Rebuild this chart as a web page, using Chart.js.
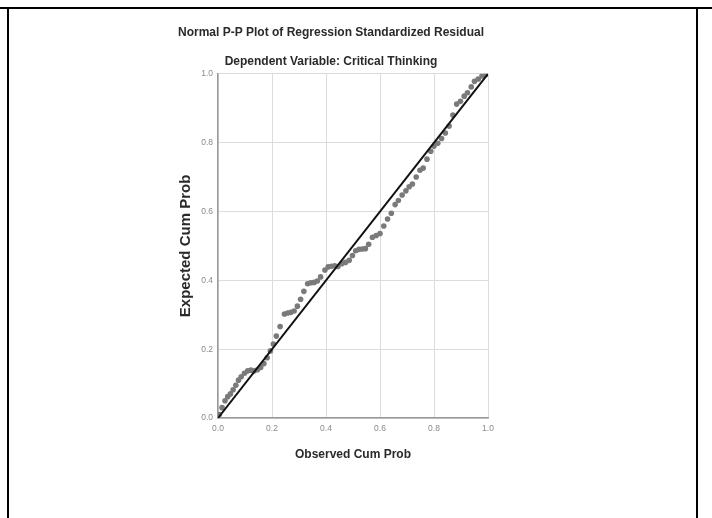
<!DOCTYPE html>
<html>
<head>
<meta charset="utf-8">
<script src="https://cdn.jsdelivr.net/npm/chart.js@4.4.1/dist/chart.umd.min.js"></script>
<style>
  body { margin: 0; background: #fff; }
  #wrap { position: relative; width: 712px; height: 518px; }
  canvas { display: block; }
  .rule { position: absolute; background: #000; }
</style>
</head>
<body>
<div id="wrap">
  <canvas id="ppPlot" width="712" height="518"></canvas>
  <div class="rule" style="left:0;top:7px;width:712px;height:2px"></div>
  <div class="rule" style="left:7px;top:8px;width:2px;height:510px"></div>
  <div class="rule" style="left:696px;top:8px;width:2px;height:510px"></div>
</div>
<script>
// values
const observedCumProb = [
  0.005, 0.015, 0.026, 0.036, 0.046, 0.056, 0.066, 0.076, 0.086, 0.098,
  0.110, 0.122, 0.134, 0.146, 0.158, 0.170, 0.182, 0.194, 0.205, 0.216,
  0.230, 0.246, 0.258, 0.270, 0.282, 0.294, 0.306, 0.318, 0.332, 0.344,
  0.356, 0.368, 0.380, 0.396, 0.408, 0.420, 0.432, 0.444, 0.458, 0.472,
  0.486, 0.498, 0.510, 0.522, 0.534, 0.546, 0.558, 0.572, 0.586, 0.600,
  0.614, 0.628, 0.642, 0.656, 0.668, 0.682, 0.696, 0.708, 0.720, 0.734,
  0.748, 0.760, 0.774, 0.788, 0.800, 0.814, 0.828, 0.842, 0.856, 0.870,
  0.884, 0.898, 0.912, 0.924, 0.938, 0.950, 0.964, 0.978, 0.992
];
const expectedCumProb = [
  0.010, 0.030, 0.050, 0.062, 0.070, 0.082, 0.095, 0.110, 0.120, 0.130,
  0.137, 0.139, 0.137, 0.140, 0.147, 0.158, 0.175, 0.195, 0.215, 0.238,
  0.266, 0.302, 0.305, 0.307, 0.311, 0.325, 0.345, 0.368, 0.390, 0.393,
  0.394, 0.398, 0.410, 0.430, 0.439, 0.441, 0.442, 0.440, 0.448, 0.452,
  0.458, 0.472, 0.486, 0.490, 0.491, 0.492, 0.505, 0.525, 0.530, 0.536,
  0.558, 0.578, 0.595, 0.620, 0.632, 0.648, 0.660, 0.672, 0.680, 0.700,
  0.720, 0.726, 0.752, 0.775, 0.790, 0.798, 0.812, 0.828, 0.848, 0.880,
  0.912, 0.920, 0.935, 0.945, 0.962, 0.978, 0.985, 0.994, 0.998
];
const refLine = [0, 1];
const tickStep = 0.2;

const points = observedCumProb.map((x, i) => ({ x: x, y: expectedCumProb[i] }));
const diagonal = refLine.map(v => ({ x: v, y: v }));

const fontFamily = "'Liberation Sans', Arial, sans-serif";
const tickFont = { family: fontFamily, size: 8.5 };

new Chart(document.getElementById("ppPlot"), {
  type: "scatter",
  data: {
    datasets: [
      {
        type: "line",
        data: diagonal,
        borderColor: "#111",
        borderWidth: 2,
        pointRadius: 0,
        order: 0
      },
      {
        data: points,
        backgroundColor: "#7a7a7a",
        borderWidth: 0,
        pointRadius: 2.8,
        order: 1
      }
    ]
  },
  options: {
    responsive: false,
    animation: false,
    layout: { padding: { left: 174, right: 224, top: 25, bottom: 40 } },
    plugins: {
      legend: { display: false },
      tooltip: { enabled: false },
      title: {
        display: true,
        text: "Normal P-P Plot of Regression Standardized Residual",
        color: "#2a2a2a",
        font: { family: fontFamily, size: 12, weight: "bold" },
        padding: { top: 0, bottom: 15 }
      },
      subtitle: {
        display: true,
        text: "Dependent Variable: Critical Thinking",
        color: "#2a2a2a",
        font: { family: fontFamily, size: 12, weight: "bold" },
        padding: { top: 0, bottom: 5 }
      }
    },
    scales: {
      x: {
        type: "linear",
        min: 0,
        max: 1,
        afterFit: function (scale) { scale.height = 60; },
        ticks: {
          stepSize: tickStep,
          color: "#8a8a8a",
          font: tickFont,
          padding: 6,
          callback: v => v.toFixed(1)
        },
        grid: { color: "#dcdcdc", drawTicks: false },
        border: { color: "#9a9a9a", width: 1.5 },
        title: {
          display: true,
          text: "Observed Cum Prob",
          color: "#2a2a2a",
          font: { family: fontFamily, size: 12, weight: "bold" },
          padding: { top: 0, bottom: 16 }
        }
      },
      y: {
        type: "linear",
        min: 0,
        max: 1,
        afterFit: function (scale) { scale.width = 44; },
        ticks: {
          stepSize: tickStep,
          color: "#8a8a8a",
          font: tickFont,
          padding: 5,
          callback: v => v.toFixed(1)
        },
        grid: { color: "#dcdcdc", drawTicks: false },
        border: { color: "#9a9a9a", width: 1.5 },
        title: {
          display: true,
          text: "Expected Cum Prob",
          color: "#2a2a2a",
          font: { family: fontFamily, size: 15, weight: "bold" },
          padding: { top: 3, bottom: 0 }
        }
      }
    }
  }
});
</script>
</body>
</html>
